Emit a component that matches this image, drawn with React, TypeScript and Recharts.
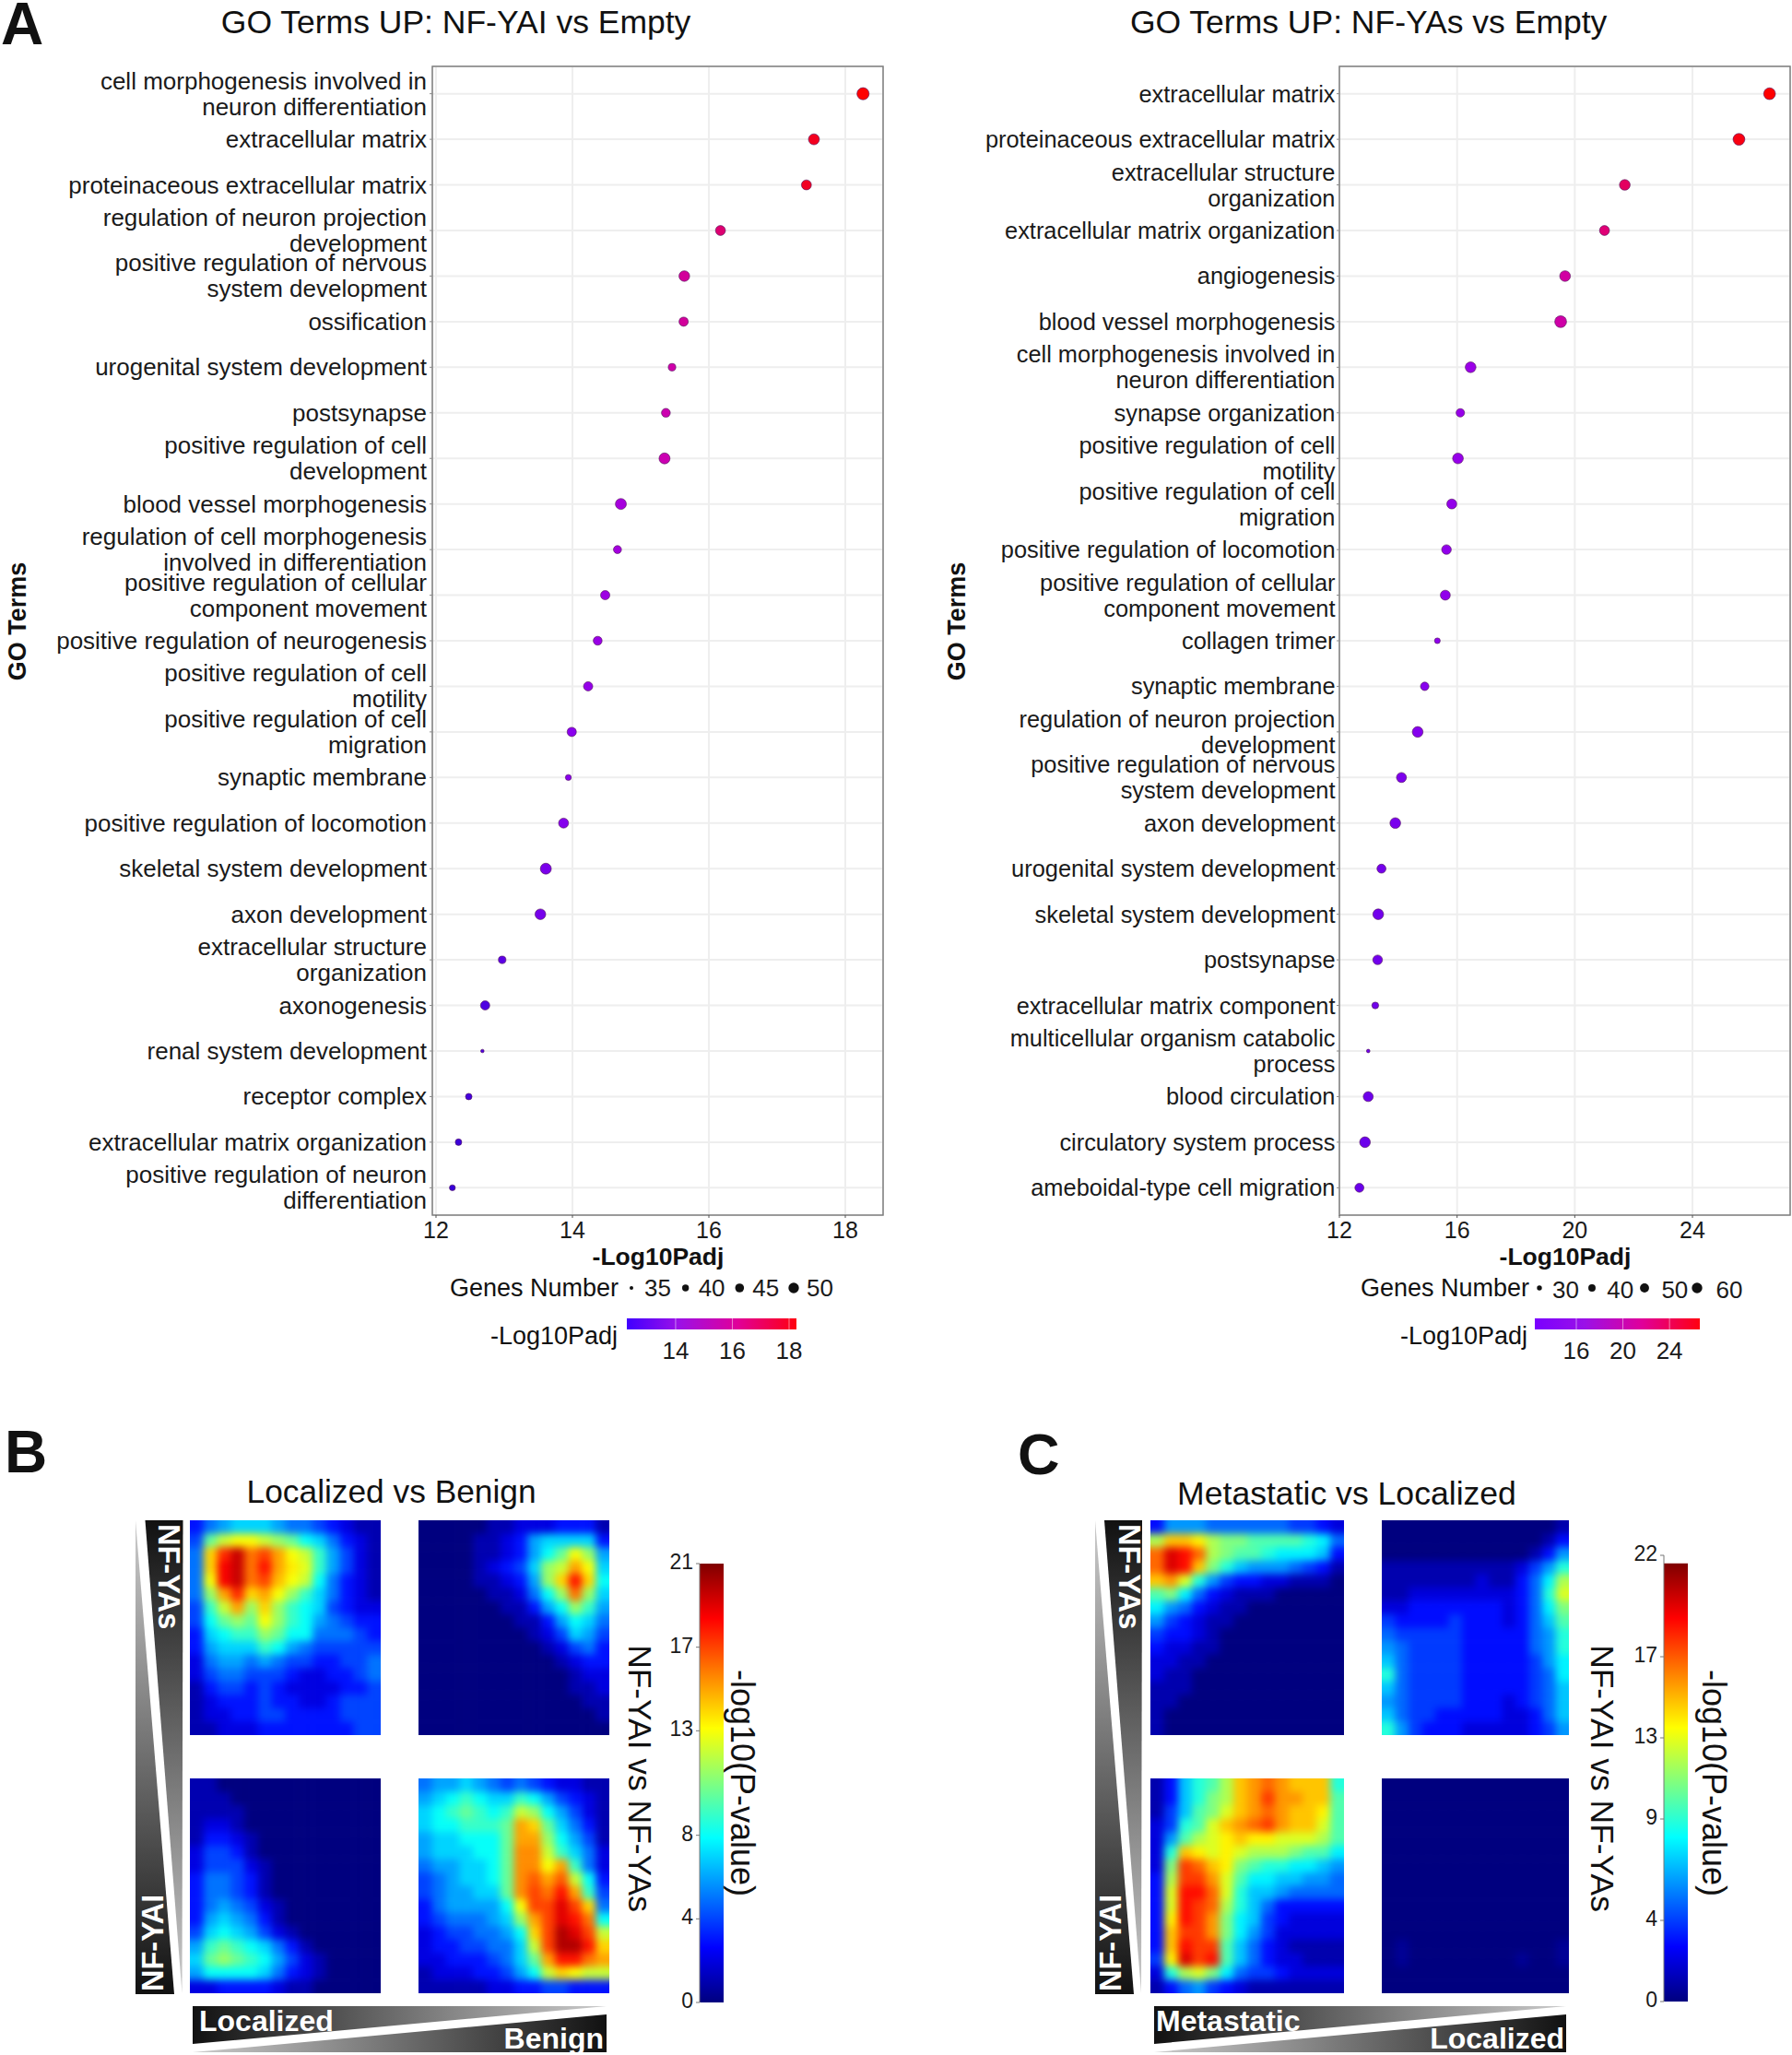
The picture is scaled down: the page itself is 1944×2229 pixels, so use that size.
import {
  ScatterChart,
  Scatter,
  XAxis,
  YAxis,
  ZAxis,
  CartesianGrid,
  ReferenceArea,
  ReferenceLine,
} from "recharts";

const FONT = "'Liberation Sans', Arial, sans-serif";

// GO term dot plots
const leftTerms = [
  "cell morphogenesis involved in\nneuron differentiation",
  "extracellular matrix",
  "proteinaceous extracellular matrix",
  "regulation of neuron projection\ndevelopment",
  "positive regulation of nervous\nsystem development",
  "ossification",
  "urogenital system development",
  "postsynapse",
  "positive regulation of cell\ndevelopment",
  "blood vessel morphogenesis",
  "regulation of cell morphogenesis\ninvolved in differentiation",
  "positive regulation of cellular\ncomponent movement",
  "positive regulation of neurogenesis",
  "positive regulation of cell\nmotility",
  "positive regulation of cell\nmigration",
  "synaptic membrane",
  "positive regulation of locomotion",
  "skeletal system development",
  "axon development",
  "extracellular structure\norganization",
  "axonogenesis",
  "renal system development",
  "receptor complex",
  "extracellular matrix organization",
  "positive regulation of neuron\ndifferentiation",
];
const leftPadj = [
  18.26, 17.54, 17.43, 16.17, 15.64, 15.63, 15.46, 15.37, 15.35, 14.71, 14.66, 14.48, 14.37, 14.23, 13.99, 13.94,
  13.87, 13.61, 13.53, 12.97, 12.72, 12.68, 12.48, 12.33, 12.24,
];
const leftGenes = [53, 49, 46, 46, 48, 44, 40, 43, 49, 49, 41, 44, 43, 44, 44, 37, 46, 49, 48, 40, 44, 34, 38, 38, 37];

const rightTerms = [
  "extracellular matrix",
  "proteinaceous extracellular matrix",
  "extracellular structure\norganization",
  "extracellular matrix organization",
  "angiogenesis",
  "blood vessel morphogenesis",
  "cell morphogenesis involved in\nneuron differentiation",
  "synapse organization",
  "positive regulation of cell\nmotility",
  "positive regulation of cell\nmigration",
  "positive regulation of locomotion",
  "positive regulation of cellular\ncomponent movement",
  "collagen trimer",
  "synaptic membrane",
  "regulation of neuron projection\ndevelopment",
  "positive regulation of nervous\nsystem development",
  "axon development",
  "urogenital system development",
  "skeletal system development",
  "postsynapse",
  "extracellular matrix component",
  "multicellular organism catabolic\nprocess",
  "blood circulation",
  "circulatory system process",
  "ameboidal-type cell migration",
];
const rightPadj = [
  26.62, 25.58, 21.7, 21.01, 19.67, 19.52, 16.46, 16.11, 16.03, 15.82, 15.64, 15.6, 15.33, 14.9, 14.66, 14.11, 13.9,
  13.43, 13.32, 13.3, 13.22, 12.98, 12.98, 12.87, 12.68,
];
const rightGenes = [64, 64, 56, 51, 56, 64, 56, 42, 56, 51, 49, 51, 30, 42, 56, 51, 56, 45, 56, 49, 34, 24, 51, 56, 45];

const leftTicks = [12, 14, 16, 18];
const rightTicks = [12, 16, 20, 24];
const leftSizeLevels = [35, 40, 45, 50];
const rightSizeLevels = [30, 40, 50, 60];
const leftBarTicks = [14, 16, 18];
const rightBarTicks = [16, 20, 24];

const bTopLeft = [
  [3, 5, 6, 7, 7, 7, 6, 5, 5, 4, 3, 2, 1, 1],
  [4, 10, 12, 13, 13, 12, 11, 10, 8, 7, 5, 3, 2, 1],
  [5, 14, 17.5, 19.5, 16, 17, 15, 13, 12, 9, 6, 4, 2, 1],
  [5, 14, 18.5, 19.5, 16, 18, 15, 13.5, 12.5, 9, 6, 4, 2, 1],
  [5, 13, 18.5, 19.5, 16, 17, 14.5, 13, 12, 8, 5, 3, 2, 1],
  [5, 11, 15, 17.5, 14, 15, 13, 11, 9, 7, 5, 3, 2, 1],
  [4, 9, 12, 15, 11, 14, 11, 9, 8, 7, 4, 3, 2, 2],
  [4, 8, 10, 11, 10, 13, 11, 9, 8, 6, 5, 4, 3, 3],
  [3, 7, 8, 9, 9, 11, 10, 8, 8, 5, 5, 5, 4, 3],
  [3, 6, 7, 7, 7, 9, 8, 6, 5, 4, 4, 4, 4, 4],
  [2, 5, 6, 6, 5, 6, 5, 4, 4, 3, 3, 4, 4, 5],
  [2, 4, 5, 5, 4, 4, 4, 3, 2, 2, 3, 3, 4, 5],
  [1, 3, 4, 4, 3, 4, 3, 2, 2, 2, 2, 3, 3, 4],
  [1, 2, 3, 3, 3, 4, 3, 3, 2, 2, 3, 4, 4, 4],
  [1, 2, 2, 3, 3, 4, 4, 3, 3, 3, 3, 4, 4, 4],
  [1, 1, 2, 2, 2, 3, 3, 3, 3, 3, 3, 3, 4, 4],
];
const bTopRight = [
  [0, 0, 0, 0, 0, 1, 1, 2, 2, 2, 3, 3, 3, 1],
  [0, 0, 0, 0, 1, 1, 2, 3, 6, 7, 7, 7, 7, 3],
  [0, 0, 0, 0, 1, 1, 2, 3, 6, 8, 10, 13, 11, 6],
  [0, 0, 0, 0, 1, 2, 3, 4, 7, 11, 12, 15, 13, 7],
  [0, 0, 0, 0, 1, 1, 2, 3, 6, 11, 14, 18, 14, 8],
  [0, 0, 0, 0, 0, 1, 1, 2, 5, 8, 11, 16, 11, 7],
  [0, 0, 0, 0, 0, 0, 1, 1, 3, 6, 8, 11, 9, 6],
  [0, 0, 0, 0, 0, 0, 0, 1, 1, 3, 6, 8, 7, 5],
  [0, 0, 0, 0, 0, 0, 0, 0, 1, 2, 4, 7, 6, 4],
  [0, 0, 0, 0, 0, 0, 0, 0, 0, 1, 2, 4, 5, 3],
  [0, 0, 0, 0, 0, 0, 0, 0, 0, 0, 1, 2, 3, 3],
  [0, 0, 0, 0, 0, 0, 0, 0, 0, 0, 0, 1, 2, 2],
  [0, 0, 0, 0, 0, 0, 0, 0, 0, 0, 0, 1, 1, 2],
  [0, 0, 0, 0, 0, 0, 0, 0, 0, 0, 0, 0, 1, 1],
  [0, 0, 0, 0, 0, 0, 0, 0, 0, 0, 0, 0, 0, 1],
  [0, 0, 0, 0, 0, 0, 0, 0, 0, 0, 0, 0, 0, 0],
];
const bBottomLeft = [
  [1, 1, 0, 0, 0, 0, 0, 0, 0, 0, 0, 0, 0, 0],
  [1, 1, 1, 0, 0, 0, 0, 0, 0, 0, 0, 0, 0, 0],
  [1, 1, 1, 1, 0, 0, 0, 0, 0, 0, 0, 0, 0, 0],
  [1, 2, 2, 1, 0, 0, 0, 0, 0, 0, 0, 0, 0, 0],
  [1, 3, 3, 2, 1, 0, 0, 0, 0, 0, 0, 0, 0, 0],
  [2, 4, 4, 3, 1, 0, 0, 0, 0, 0, 0, 0, 0, 0],
  [2, 4, 4, 4, 2, 1, 0, 0, 0, 0, 0, 0, 0, 0],
  [3, 5, 5, 4, 3, 1, 0, 0, 0, 0, 0, 0, 0, 0],
  [3, 5, 5, 4, 3, 1, 0, 0, 0, 0, 0, 0, 0, 0],
  [3, 5, 6, 5, 4, 2, 1, 0, 0, 0, 0, 0, 0, 0],
  [3, 6, 7, 6, 5, 3, 1, 0, 0, 0, 0, 0, 0, 0],
  [4, 7, 8, 7, 6, 4, 2, 1, 0, 0, 0, 0, 0, 0],
  [6, 9, 10, 9, 8, 7, 5, 3, 1, 0, 0, 0, 0, 0],
  [7, 10, 11, 10, 9, 8, 6, 4, 2, 1, 0, 0, 0, 0],
  [6, 8, 8, 8, 8, 7, 5, 3, 2, 1, 0, 0, 0, 0],
  [2, 2, 3, 3, 3, 3, 2, 1, 1, 0, 0, 0, 0, 0],
];
const bBottomRight = [
  [5, 6, 6, 7, 6, 5, 4, 5, 4, 3, 2, 2, 1, 1],
  [6, 7, 8, 9, 8, 7, 7, 9, 8, 6, 4, 3, 2, 1],
  [7, 8, 9, 10, 9, 8, 9, 12, 11, 8, 6, 4, 2, 1],
  [7, 8, 8, 9, 9, 9, 10, 15, 14, 10, 7, 5, 3, 1],
  [6, 7, 7, 8, 8, 8, 10, 15, 15, 11, 8, 6, 4, 1],
  [6, 7, 7, 7, 8, 8, 10, 15.5, 15.5, 12, 9, 7, 5, 2],
  [5, 6, 6, 7, 7, 8, 10, 15.5, 15.5, 13, 15, 9, 5, 2],
  [4, 5, 6, 7, 7, 8, 10, 15.5, 16.5, 15, 16.5, 12, 8, 3],
  [4, 5, 6, 6, 7, 7, 10, 15.5, 17, 16, 18, 15, 9, 4],
  [3, 5, 6, 6, 6, 6, 8, 13, 17, 17, 19, 17, 14, 5],
  [3, 4, 5, 5, 5, 6, 7, 11, 15, 17, 19, 18, 16, 8],
  [2, 3, 4, 4, 5, 5, 6, 8, 14, 17, 20, 19, 17, 12],
  [2, 3, 3, 4, 4, 5, 5, 7, 12, 17, 20, 20, 18, 14],
  [2, 2, 3, 3, 3, 4, 5, 7, 10, 15, 18, 18, 16, 15],
  [1, 2, 2, 2, 3, 3, 4, 6, 8, 12, 14, 13, 12, 12],
  [1, 1, 1, 1, 1, 2, 2, 3, 3, 4, 4, 3, 3, 3],
];
const cTopLeft = [
  [3, 6, 6, 6, 5, 5, 5, 5, 5, 5, 4, 4, 3, 2],
  [12, 15, 15, 14, 12, 11, 11, 10, 10, 10, 10, 9, 8, 5],
  [17, 20, 19, 17, 12, 11, 10, 10, 9, 8, 8, 8, 7, 3],
  [17, 20, 19, 15, 11, 9, 7, 6, 6, 6, 5, 4, 3, 1],
  [15, 16, 13, 9, 6, 4, 3, 3, 2, 2, 1, 1, 1, 0],
  [10, 11, 8, 5, 3, 2, 1, 1, 1, 0, 0, 0, 0, 0],
  [8, 6, 5, 3, 2, 1, 1, 0, 0, 0, 0, 0, 0, 0],
  [6, 4, 3, 2, 1, 1, 0, 0, 0, 0, 0, 0, 0, 0],
  [4, 3, 3, 2, 1, 0, 0, 0, 0, 0, 0, 0, 0, 0],
  [3, 2, 2, 1, 1, 0, 0, 0, 0, 0, 0, 0, 0, 0],
  [2, 2, 1, 1, 0, 0, 0, 0, 0, 0, 0, 0, 0, 0],
  [2, 1, 1, 0, 0, 0, 0, 0, 0, 0, 0, 0, 0, 0],
  [1, 1, 1, 0, 0, 0, 0, 0, 0, 0, 0, 0, 0, 0],
  [1, 1, 0, 0, 0, 0, 0, 0, 0, 0, 0, 0, 0, 0],
  [1, 0, 0, 0, 0, 0, 0, 0, 0, 0, 0, 0, 0, 0],
  [1, 0, 0, 0, 0, 0, 0, 0, 0, 0, 0, 0, 0, 0],
];
const cTopRight = [
  [0, 0, 0, 0, 0, 0, 0, 0, 0, 0, 0, 0, 0, 1],
  [0, 0, 0, 0, 0, 0, 0, 0, 0, 0, 0, 0, 1, 3],
  [0, 0, 0, 0, 0, 0, 0, 0, 0, 0, 0, 1, 3, 6],
  [1, 1, 1, 1, 1, 1, 1, 1, 1, 1, 2, 4, 6, 9],
  [1, 1, 1, 1, 1, 1, 1, 2, 1, 1, 3, 5, 8, 12],
  [1, 1, 2, 2, 2, 2, 2, 2, 2, 2, 3, 5, 9, 13],
  [2, 2, 3, 3, 3, 3, 3, 3, 3, 2, 3, 5, 8, 11],
  [4, 3, 3, 3, 3, 4, 3, 3, 3, 2, 3, 5, 7, 10],
  [5, 4, 4, 4, 4, 4, 3, 3, 3, 3, 3, 5, 6, 9],
  [6, 5, 4, 4, 4, 4, 3, 3, 3, 3, 3, 5, 6, 9],
  [7, 5, 4, 4, 4, 4, 3, 3, 3, 3, 3, 4, 6, 8],
  [9, 5, 4, 4, 4, 4, 3, 3, 3, 3, 3, 4, 5, 8],
  [7, 5, 4, 4, 4, 4, 3, 3, 3, 3, 3, 4, 5, 7],
  [6, 5, 4, 4, 4, 4, 3, 3, 3, 2, 3, 4, 5, 7],
  [7, 5, 4, 4, 3, 3, 3, 3, 3, 2, 2, 3, 5, 7],
  [9, 6, 4, 3, 3, 3, 2, 2, 2, 2, 2, 3, 4, 6],
];
const cBottomLeft = [
  [1, 3, 7, 9, 10, 12, 15, 16, 17, 16, 15, 15, 15, 9],
  [1, 3, 7, 9, 11, 12, 15, 16, 18, 16, 16, 15, 15, 10],
  [1, 4, 7, 10, 11, 13, 15, 16, 17, 16, 15, 15, 14, 10],
  [2, 4, 9, 10, 13, 15, 16, 17, 18, 16, 15, 15, 13, 10],
  [2, 6, 10, 12, 13, 14, 15, 14, 14, 13, 13, 13, 12, 10],
  [2, 9, 15, 14, 13, 14, 13, 12, 12, 12, 11, 10, 10, 8],
  [2, 11, 18, 17, 15, 14, 11, 10, 9, 9, 8, 8, 7, 6],
  [3, 12, 18, 18, 16, 13, 10, 8, 8, 7, 7, 6, 6, 5],
  [3, 13, 19, 19, 17, 13, 9, 7, 7, 6, 5, 5, 5, 5],
  [3, 13, 19, 18, 17, 12, 9, 7, 5, 3, 3, 3, 3, 3],
  [3, 14, 19, 18, 16, 11, 8, 7, 4, 3, 2, 2, 2, 2],
  [3, 15, 18, 18, 16, 11, 8, 6, 4, 2, 2, 2, 2, 2],
  [3, 15, 19, 18, 18, 10, 7, 5, 3, 2, 1, 1, 1, 1],
  [4, 14, 20, 18, 19, 10, 7, 5, 3, 2, 2, 1, 1, 1],
  [2, 9, 12, 13, 11, 8, 5, 4, 4, 3, 2, 2, 2, 2],
  [1, 3, 5, 6, 4, 3, 2, 1, 1, 1, 1, 1, 1, 1],
];
const cBottomRight = [
  [0, 0, 0, 0, 0, 0, 0, 0, 0, 0, 0, 0, 0, 0],
  [0, 0, 0, 0, 0, 0, 0, 0, 0, 0, 0, 0, 0, 0],
  [0, 0, 0, 0, 0, 0, 0, 0, 0, 0, 0, 0, 0, 0],
  [0, 0, 0, 0, 0, 0, 0, 0, 0, 0, 0, 0, 0, 0],
  [0, 0, 0, 0, 0, 0, 0, 0, 0, 0, 0, 0, 0, 0],
  [0, 0, 0, 0, 0, 0, 0, 0, 0, 0, 0, 0, 0, 0],
  [0, 0, 0, 0, 0, 0, 0, 0, 0, 0, 0, 0, 0, 0],
  [0, 0, 0, 0, 0, 0, 0, 0, 0, 0, 0, 0, 0, 0],
  [0, 0, 0, 0, 0, 0, 0, 0, 0, 0, 0, 0, 0, 0],
  [0, 0, 0, 0, 0, 0, 0, 0, 0, 0, 0, 0, 0, 0],
  [0, 0, 0, 0, 0, 0, 0, 0, 0, 0, 0, 0, 0, 0],
  [0, 0, 0, 0, 0, 0, 0, 0, 0, 0, 0, 0, 0, 0],
  [0, 0.5, 0, 0, 0, 0, 0, 0, 0, 0, 0, 0, 0, 0.5],
  [0, 0.5, 0, 0, 0, 0, 0, 0, 0, 0, 0.5, 0, 0, 0.5],
  [0, 0, 0, 0, 0, 0, 0, 0, 0, 0, 0, 0, 0, 0],
  [0, 0, 0, 0, 0, 0, 0, 0, 0, 0, 0, 0, 0, 0],
];
const bScaleTicks = [0, 4, 8, 13, 17, 21];
const cScaleTicks = [0, 4, 9, 13, 17, 22];

const JET: [number, number[]][] = [
  [0, [0, 0, 127]],
  [0.125, [0, 0, 255]],
  [0.375, [0, 255, 255]],
  [0.625, [255, 255, 0]],
  [0.875, [255, 0, 0]],
  [1, [127, 0, 0]],
];
const PADJ_LEFT: [number, number[]][] = [
  [0, [52, 0, 216]],
  [0.15, [100, 0, 232]],
  [0.3, [140, 0, 238]],
  [0.42, [168, 0, 220]],
  [0.52, [204, 0, 176]],
  [0.65, [221, 0, 112]],
  [0.85, [240, 0, 37]],
  [1, [255, 0, 0]],
];
const PADJ_RIGHT: [number, number[]][] = [
  [0, [105, 0, 235]],
  [0.15, [135, 0, 238]],
  [0.3, [160, 0, 230]],
  [0.42, [190, 0, 200]],
  [0.55, [220, 0, 140]],
  [0.7, [232, 0, 70]],
  [1, [255, 0, 0]],
];

function ramp(stops: [number, number[]][], t: number) {
  const v = Math.min(1, Math.max(0, t));
  let i = 0;
  while (i < stops.length - 2 && v > stops[i + 1][0]) i++;
  const [a, ca] = stops[i];
  const [b, cb] = stops[i + 1];
  const f = (v - a) / (b - a);
  const c = ca.map((x, k) => Math.round(x + (cb[k] - x) * f));
  return `rgb(${c[0]},${c[1]},${c[2]})`;
}

function TermTick({ x, y, payload, terms, size }: any) {
  const lines: string[] = (terms[payload.value] || "").split("\n");
  return (
    <text x={x} y={y} textAnchor="end" fontSize={size} fontFamily={FONT} fill="#1a1a1a">
      {lines.map((line, i) => (
        <tspan key={i} x={x} dy={i === 0 ? 9 - ((lines.length - 1) * 28) / 2 : 28}>
          {line}
        </tspan>
      ))}
    </text>
  );
}

function GoDotPlot({
  left,
  width,
  plotLeft,
  plotRight,
  terms,
  padj,
  genes,
  ticks,
  domain,
  colorDomain,
  colorStops,
  sizeDomain,
  sizeRange,
  labelSize,
  labelGap,
}: any) {
  const data = terms.map((term: string, i: number) => ({ rank: i, term, padj: padj[i], genes: genes[i] }));
  const ranks = terms.map((_: string, i: number) => i);
  const top = 72;
  const bottom = 1318;
  return (
    <div style={{ position: "absolute", left, top: 0 }}>
      <ScatterChart
        width={width}
        height={bottom + 50}
        margin={{ top, right: width - (plotRight - left), bottom: 0, left: 0 }}
      >
        <CartesianGrid stroke="#eeeeee" strokeWidth={2} />
        <XAxis
          type="number"
          dataKey="padj"
          domain={domain}
          ticks={ticks}
          interval={0}
          height={50}
          tickSize={3}
          tickMargin={4}
          axisLine={false}
          stroke="#555"
          tick={{ fontSize: 25, fill: "#1a1a1a", fontFamily: FONT }}
        />
        <YAxis
          type="number"
          dataKey="rank"
          domain={[-0.6, 24.6]}
          ticks={ranks}
          interval={0}
          reversed
          width={plotLeft - left}
          tickSize={3}
          tickMargin={labelGap}
          axisLine={false}
          stroke="#888"
          tick={<TermTick terms={terms} size={labelSize} />}
        />
        <ZAxis type="number" dataKey="genes" domain={sizeDomain} range={sizeRange} />
        <ReferenceArea
          x1={domain[0]}
          x2={domain[1]}
          y1={-0.6}
          y2={24.6}
          fill="none"
          stroke="#7f7f7f"
          strokeWidth={1.5}
        />
        <Scatter
          data={data}
          isAnimationActive={false}
          shape={(p: any) => (
            <circle
              cx={p.cx}
              cy={p.cy}
              r={Math.sqrt(p.size / Math.PI) + 0.4}
              fill={ramp(colorStops, (p.payload.padj - colorDomain[0]) / (colorDomain[1] - colorDomain[0]))}
              stroke="#50105a"
              strokeOpacity={0.6}
              strokeWidth={1}
            />
          )}
        />
      </ScatterChart>
    </div>
  );
}

function SizeLegend({ left, width, levels, sizeDomain, sizeRange, labelDy, labelStep }: any) {
  const data = levels.map((genes: number, i: number) => ({ genes, row: 1, i }));
  return (
    <div style={{ position: "absolute", left, top: 1380 }}>
      <ScatterChart width={width} height={34} margin={{ top: 0, right: 60, bottom: 0, left: 15 }}>
        <XAxis type="number" dataKey="genes" domain={[levels[0], levels[3]]} hide />
        <YAxis type="number" dataKey="row" domain={[0, 2]} hide />
        <ZAxis type="number" dataKey="genes" domain={sizeDomain} range={sizeRange} />
        <Scatter
          data={data}
          isAnimationActive={false}
          shape={(p: any) => (
            <g>
              <circle cx={p.cx} cy={p.cy} r={Math.sqrt(p.size / Math.PI)} fill="#111" />
              <text
                x={p.cx + 14 + p.payload.i * labelStep}
                y={p.cy + labelDy}
                fontSize={26}
                fontFamily={FONT}
                fill="#1a1a1a"
              >
                {p.payload.genes}
              </text>
            </g>
          )}
        />
      </ScatterChart>
    </div>
  );
}

function ColorLegend({ id, plotLeft, plotRight, domain, ticks, lowColor }: any) {
  const pad = 20;
  const data = ticks.map((level: number) => ({ level, row: 0.5 }));
  return (
    <div style={{ position: "absolute", left: plotLeft - pad, top: 1430 }}>
      <ScatterChart
        width={plotRight - plotLeft + pad * 2}
        height={62}
        margin={{ top: 0, right: pad, bottom: 0, left: pad }}
      >
        <defs>
          <linearGradient id={id} x1="0" y1="0" x2="1" y2="0">
            <stop offset="0" stopColor={lowColor} />
            <stop offset="0.3" stopColor="#9a10e8" />
            <stop offset="0.65" stopColor="#e0009a" />
            <stop offset="1" stopColor="#ff0010" />
          </linearGradient>
        </defs>
        <XAxis
          type="number"
          dataKey="level"
          domain={domain}
          ticks={ticks}
          interval={0}
          height={50}
          axisLine={false}
          tickLine={false}
          tickMargin={8}
          tick={{ fontSize: 26, fill: "#1a1a1a", fontFamily: FONT }}
        />
        <YAxis type="number" dataKey="row" domain={[0, 1]} hide />
        <ReferenceArea x1={domain[0]} x2={domain[1]} y1={0} y2={1} fill={`url(#${id})`} fillOpacity={1} />
        {ticks.map((t: number) => (
          <ReferenceLine key={t} x={t} stroke="#ffffff" strokeOpacity={0.5} />
        ))}
        <Scatter data={data} isAnimationActive={false} shape={() => <g />} />
      </ScatterChart>
    </div>
  );
}

function Heatmap({ grid, left, top, width, height, max }: any) {
  const pad = 12;
  const rows = grid.length;
  const cols = grid[0].length;
  const cw = width / cols;
  const ch = height / rows;
  const data = grid.flatMap((row: number[], r: number) => row.map((value, c) => ({ c, r, value })));
  return (
    <div style={{ position: "absolute", left, top, width, height, overflow: "hidden" }}>
      <div style={{ position: "absolute", left: -pad, top: -pad, filter: "blur(4px)" }}>
        <ScatterChart
          width={width + pad * 2}
          height={height + pad * 2}
          margin={{ top: pad, right: pad, bottom: pad, left: pad }}
        >
          <XAxis type="number" dataKey="c" domain={[-0.5, cols - 0.5]} hide />
          <YAxis type="number" dataKey="r" domain={[-0.5, rows - 0.5]} reversed hide />
          <Scatter
            data={data}
            isAnimationActive={false}
            shape={(p: any) => {
              const { c, r, value } = p.payload;
              const x0 = p.cx - cw / 2 - (c === 0 ? pad : 0);
              const x1 = p.cx + cw / 2 + (c === cols - 1 ? pad : 0.5);
              const y0 = p.cy - ch / 2 - (r === 0 ? pad : 0);
              const y1 = p.cy + ch / 2 + (r === rows - 1 ? pad : 0.5);
              return <rect x={x0} y={y0} width={x1 - x0} height={y1 - y0} fill={ramp(JET, value / max)} />;
            }}
          />
        </ScatterChart>
      </div>
    </div>
  );
}

function ColorScale({ id, plotLeft, plotRight, top, height, max, barTop, ticks }: any) {
  const axisWidth = 40;
  const pad = 20;
  const data = ticks.map((level: number) => ({ level, pos: 0.5 }));
  return (
    <div style={{ position: "absolute", left: plotLeft - axisWidth, top: top - pad }}>
      <ScatterChart
        width={plotRight - plotLeft + axisWidth + 2}
        height={height + pad * 2}
        margin={{ top: pad, right: 2, bottom: pad, left: 0 }}
      >
        <defs>
          <linearGradient id={id} x1="0" y1="0" x2="0" y2="1">
            <stop offset="0" stopColor="#7f0000" />
            <stop offset="0.125" stopColor="#ff0000" />
            <stop offset="0.375" stopColor="#ffff00" />
            <stop offset="0.625" stopColor="#00ffff" />
            <stop offset="0.875" stopColor="#0000ff" />
            <stop offset="1" stopColor="#00007f" />
          </linearGradient>
        </defs>
        <XAxis type="number" dataKey="pos" domain={[0, 1]} hide />
        <YAxis
          type="number"
          dataKey="level"
          domain={[0, max]}
          ticks={ticks}
          interval={0}
          width={axisWidth}
          tickSize={4}
          tickMargin={3}
          stroke="#777"
          tick={{ fontSize: 23, fill: "#1a1a1a", fontFamily: FONT, dy: -2 }}
        />
        <ReferenceArea x1={0} x2={1} y1={0} y2={barTop} fill={`url(#${id})`} fillOpacity={1} />
        <Scatter data={data} isAnimationActive={false} shape={() => <g />} />
      </ScatterChart>
    </div>
  );
}

function Label({ x, y, size = 26, bold, anchor = "start", rotate, fill = "#111", children }: any) {
  return (
    <text
      x={x}
      y={y}
      fontSize={size}
      fontWeight={bold ? "bold" : "normal"}
      textAnchor={anchor}
      fontFamily={FONT}
      fill={fill}
      transform={rotate ? `rotate(${rotate} ${x} ${y})` : undefined}
    >
      {children}
    </text>
  );
}

// Wedges beside a heatmap block; the gradients are shared by both panels
function Wedges({ vx, hx0, hx1, yTop, yBottom }: any) {
  const [a, b, c] = vx;
  return (
    <g>
      <polygon points={`${b},${yTop} ${c},${yTop} ${c - 1},${yBottom}`} fill="url(#wedgeDown)" />
      <polygon points={`${a},${yBottom + 1} ${a + 42},${yBottom + 1} ${a},${yTop}`} fill="url(#wedgeUp)" />
      <polygon points={`${hx0},2176 ${hx1},2176 ${hx0},2217`} fill="url(#wedgeRight)" />
      <polygon points={`${hx1},2185 ${hx1},2226 ${hx0},2226`} fill="url(#wedgeLeft)" />
    </g>
  );
}

const leftSize = { sizeDomain: [33, 53], sizeRange: [0.6, 120.6] };
const rightSize = { sizeDomain: [24, 66], sizeRange: [7.2, 118] };

export default function App() {
  return (
    <div style={{ position: "absolute", left: 0, top: 0, width: 1944, height: 2229, background: "#fff", overflow: "hidden" }}>
      <GoDotPlot
        left={0}
        width={962}
        plotLeft={469}
        plotRight={958}
        terms={leftTerms}
        padj={leftPadj}
        genes={leftGenes}
        ticks={leftTicks}
        domain={[11.946, 18.554]}
        colorDomain={[12.2, 18.3]}
        colorStops={PADJ_LEFT}
        labelSize={26}
        labelGap={3}
        {...leftSize}
      />
      <GoDotPlot
        left={1000}
        width={944}
        plotLeft={1453}
        plotRight={1942}
        terms={rightTerms}
        padj={rightPadj}
        genes={rightGenes}
        ticks={rightTicks}
        domain={[12, 27.32]}
        colorDomain={[12.7, 26.6]}
        colorStops={PADJ_RIGHT}
        labelSize={25.4}
        labelGap={1.5}
        {...rightSize}
      />
      <SizeLegend left={670} width={251} levels={leftSizeLevels} labelDy={9} labelStep={0} {...leftSize} />
      <SizeLegend left={1654.5} width={246} levels={rightSizeLevels} labelDy={11} labelStep={2.2} {...rightSize} />
      <ColorLegend id="padjLeft" plotLeft={680} plotRight={864} domain={[12.28, 18.26]} ticks={leftBarTicks} lowColor="#4000ff" />
      <ColorLegend id="padjRight" plotLeft={1665} plotRight={1844} domain={[12.44, 26.6]} ticks={rightBarTicks} lowColor="#7a00ff" />

      <Heatmap grid={bTopLeft} left={206} top={1649} width={207} height={233} max={21} />
      <Heatmap grid={bTopRight} left={454} top={1649} width={207} height={233} max={21} />
      <Heatmap grid={bBottomLeft} left={206} top={1929} width={207} height={233} max={21} />
      <Heatmap grid={bBottomRight} left={454} top={1929} width={207} height={233} max={21} />
      <Heatmap grid={cTopLeft} left={1248} top={1649} width={210} height={233} max={22} />
      <Heatmap grid={cTopRight} left={1499} top={1649} width={203} height={233} max={22} />
      <Heatmap grid={cBottomLeft} left={1248} top={1929} width={210} height={233} max={22} />
      <Heatmap grid={cBottomRight} left={1499} top={1929} width={203} height={233} max={22} />

      <ColorScale id="jetB" plotLeft={759} plotRight={785} top={1696} height={476} max={21} barTop={21} ticks={bScaleTicks} />
      <ColorScale id="jetC" plotLeft={1805} plotRight={1831} top={1687} height={484} max={22} barTop={21.6} ticks={cScaleTicks} />

      <svg width={1944} height={2229} style={{ position: "absolute", left: 0, top: 0, pointerEvents: "none" }}>
        <defs>
          <linearGradient id="wedgeDown" x1="0" y1="0" x2="0" y2="1">
            <stop offset="0" stopColor="#111" />
            <stop offset="1" stopColor="#ccc" />
          </linearGradient>
          <linearGradient id="wedgeUp" x1="0" y1="1" x2="0" y2="0">
            <stop offset="0" stopColor="#111" />
            <stop offset="1" stopColor="#ccc" />
          </linearGradient>
          <linearGradient id="wedgeRight" x1="0" y1="0" x2="1" y2="0">
            <stop offset="0" stopColor="#111" />
            <stop offset="1" stopColor="#ccc" />
          </linearGradient>
          <linearGradient id="wedgeLeft" x1="1" y1="0" x2="0" y2="0">
            <stop offset="0" stopColor="#111" />
            <stop offset="1" stopColor="#ccc" />
          </linearGradient>
        </defs>

        <Label x={1} y={48} size={64} bold>A</Label>
        <Label x={5} y={1597} size={64} bold>B</Label>
        <Label x={1104} y={1599} size={63} bold>C</Label>

        <Label x={494.6} y={36} size={35.5} anchor="middle">GO Terms UP: NF-YAI vs Empty</Label>
        <Label x={1484.6} y={36} size={35.5} anchor="middle">GO Terms UP: NF-YAs vs Empty</Label>
        <Label x={28} y={674} size={27} bold anchor="middle" rotate={-90}>GO Terms</Label>
        <Label x={1047} y={674} size={27} bold anchor="middle" rotate={-90}>GO Terms</Label>
        <Label x={714} y={1372} size={26.5} bold anchor="middle">-Log10Padj</Label>
        <Label x={1698} y={1372} size={26.5} bold anchor="middle">-Log10Padj</Label>
        <Label x={488} y={1406} size={27}>Genes Number</Label>
        <Label x={1476} y={1406} size={27}>Genes Number</Label>
        <Label x={532} y={1458} size={27}>-Log10Padj</Label>
        <Label x={1519} y={1458} size={27}>-Log10Padj</Label>

        <Label x={424.6} y={1630} size={35.3} anchor="middle">Localized vs Benign</Label>
        <Label x={1461} y={1632} size={35.6} anchor="middle">Metastatic vs Localized</Label>

        <Wedges vx={[147, 157.5, 198.5]} hx0={209} hx1={658} yTop={1649} yBottom={2162} />
        <Wedges vx={[1188, 1198, 1239]} hx0={1252} hx1={1699} yTop={1649} yBottom={2162} />

        <Label x={172} y={1653} size={32.5} bold rotate={90} fill="#fff">NF-YAs</Label>
        <Label x={177} y={2160} size={32.5} bold rotate={-90} fill="#fff">NF-YAI</Label>
        <Label x={1214} y={1653} size={32.5} bold rotate={90} fill="#fff">NF-YAs</Label>
        <Label x={1216} y={2160} size={32.5} bold rotate={-90} fill="#fff">NF-YAI</Label>
        <Label x={216} y={2203} size={32} bold fill="#fff">Localized</Label>
        <Label x={655} y={2222} size={32} bold anchor="end" fill="#fff">Benign</Label>
        <Label x={1254} y={2203} size={32} bold fill="#fff">Metastatic</Label>
        <Label x={1697} y={2222} size={32} bold anchor="end" fill="#fff">Localized</Label>

        <Label x={682} y={1929} size={35.4} anchor="middle" rotate={90}>NF-YAI vs NF-YAs</Label>
        <Label x={1726} y={1929} size={35.4} anchor="middle" rotate={90}>NF-YAI vs NF-YAs</Label>
        <Label x={793} y={1934} size={36} anchor="middle" rotate={90}>-log10(P-value)</Label>
        <Label x={1847} y={1934} size={36} anchor="middle" rotate={90}>-log10(P-value)</Label>
      </svg>
    </div>
  );
}
